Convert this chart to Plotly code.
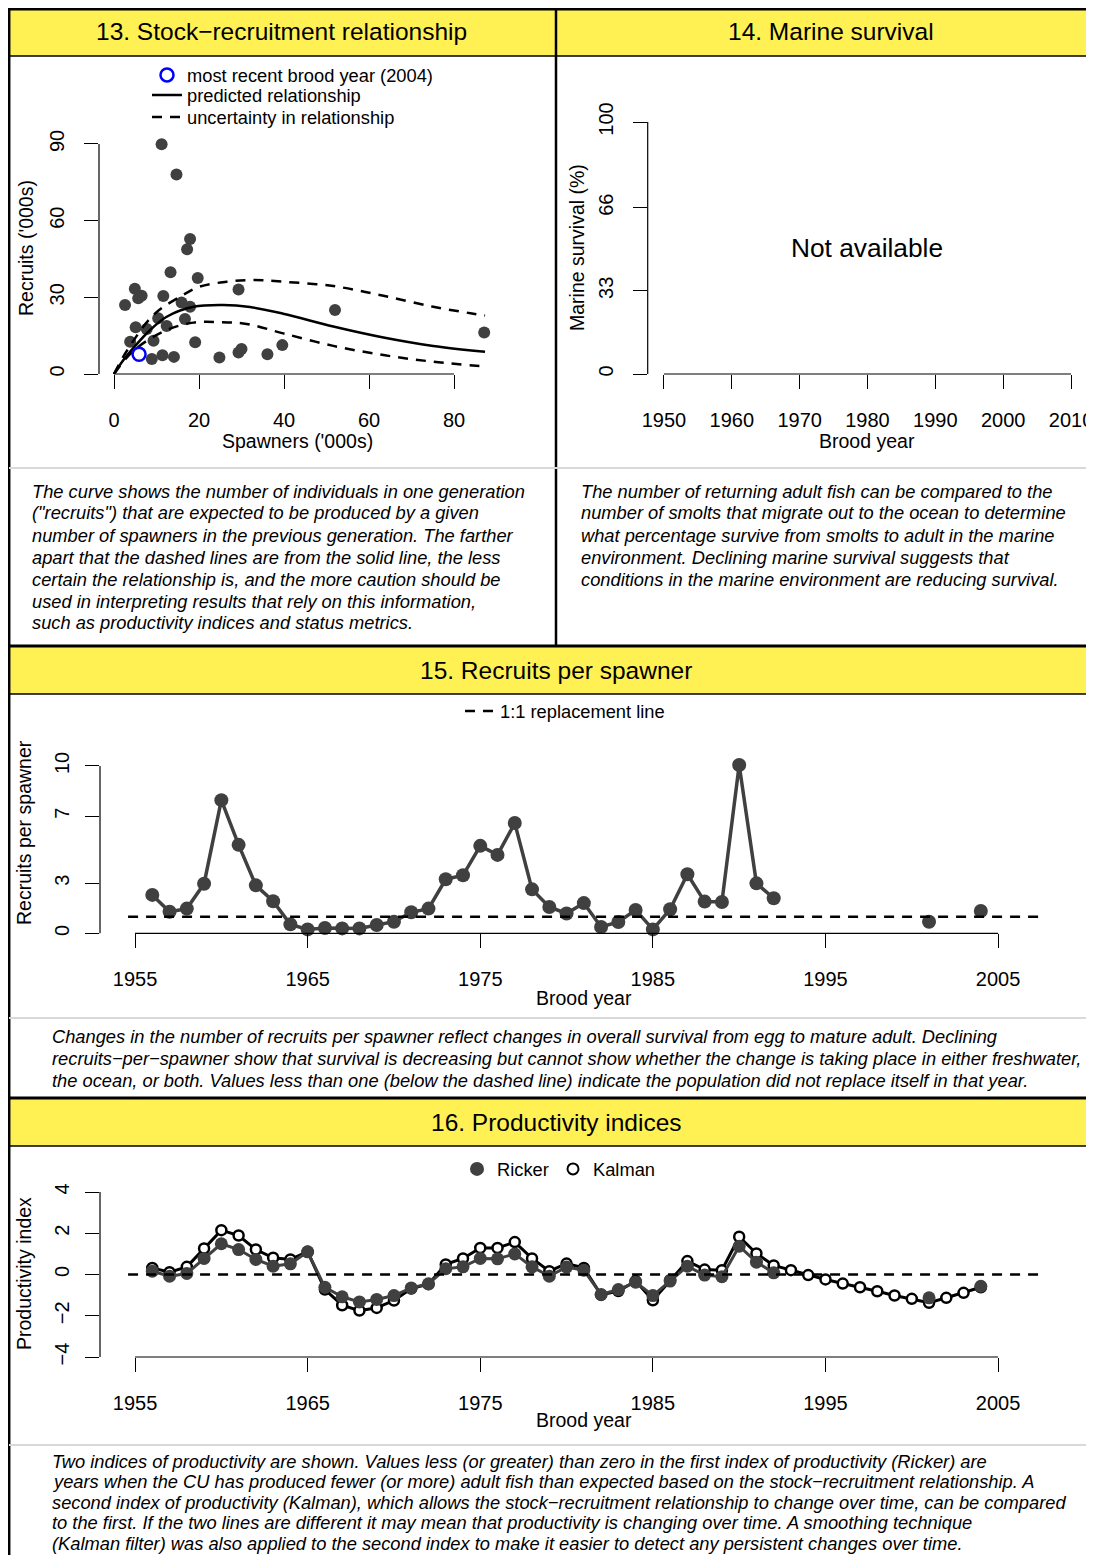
import plotly.graph_objects as go

# page offset: the figure sits 8px inside the page (body margin); keep page free of scrollbars
OX, OY = 8, 8
W, H = 1094 - OX, 1563 - 2 * OY
def X(px): return (px - OX) / W
def Y(py): return 1 - (py - OY) / H

FONT = "Liberation Sans, Arial, Helvetica, sans-serif"
DARK = "#404040"
YELLOW = "#FFF154"

# ---------------- data ----------------
# Panel 13: stock-recruitment
spawners = [11.2, 14.7, 17.9, 17.2, 13.3, 19.7, 29.3, 4.9, 6.5, 5.7, 2.6, 11.6, 15.9, 17.9,
            52.0, 10.4, 16.7, 5.1, 7.7, 12.4, 9.3, 3.8, 19.1, 39.6, 30.0, 29.3, 36.1, 24.8,
            14.1, 11.4, 8.9, 87.1]
recruits = [89.9, 78.1, 52.8, 48.8, 39.8, 37.6, 33.1, 33.4, 30.6, 29.6, 27.0, 30.5, 28.0, 26.3,
            25.0, 21.8, 21.5, 18.3, 17.6, 18.8, 13.0, 12.6, 12.4, 11.3, 9.8, 8.4, 7.7, 6.5,
            6.7, 7.3, 5.9, 16.2]
recent_spawners = [5.9]
recent_recruits = [7.7]

pred_S = [0, 2, 5, 8.5, 12.4, 18.7, 25.7, 32, 39.8, 51.6, 63.4, 75.1, 87.3]
pred_R = [0, 5.0, 11.0, 17.2, 22.4, 26.3, 27.0, 26.2, 23.6, 18.6, 14.3, 11.0, 8.7]
upper_S = [0, 3, 9.3, 15.9, 20.2, 26.5, 32.8, 39.8, 51.6, 63.4, 75.1, 84.2, 87.3]
upper_R = [0, 9.0, 23.1, 30.6, 34.2, 36.1, 36.8, 36.1, 34.4, 30.6, 26.3, 23.7, 22.9]
lower_S = [0, 3, 6, 12.4, 18.7, 24.9, 31.2, 39.8, 51.6, 63.4, 75.1, 87.3]
lower_R = [0, 6.4, 11.0, 17.2, 20.1, 20.3, 19.6, 15.9, 11.0, 7.4, 4.8, 2.9]

# Panels 15 & 16: brood years
years = list(range(1956, 2005))
rps = [2.30, 1.29, 1.48, 2.97, 7.96, 5.29, 2.87, 1.92, 0.54, 0.24, 0.32, 0.30, 0.30, 0.50,
       0.70, 1.26, 1.48, 3.23, 3.47, 5.23, 4.69, 6.59, 2.63, 1.58, 1.19, 1.81, 0.38, 0.68,
       1.40, 0.24, 1.44, 3.53, 1.90, 1.88, 10.06, 2.99, 2.10,
       None, None, None, None, None, None, None, None, 0.70, None, None, 1.34]
ricker = [0.16, -0.08, 0.05, 0.78, 1.49, 1.21, 0.73, 0.40, 0.52, 1.10, -0.62, -1.08, -1.33,
          -1.21, -1.02, -0.65, -0.45, 0.28, 0.37, 0.78, 0.76, 1.00, 0.37, -0.08, 0.36, 0.21,
          -0.97, -0.73, -0.37, -1.02, -0.32, 0.40, -0.03, -0.11, 1.37, 0.60, 0.08,
          None, None, None, None, None, None, None, None, -1.13, None, None, -0.57]
kalman = [0.32, 0.11, 0.37, 1.26, 2.15, 1.89, 1.21, 0.81, 0.73, 1.10, -0.73, -1.49, -1.75,
          -1.62, -1.26, -0.68, -0.47, 0.49, 0.78, 1.29, 1.29, 1.57, 0.78, 0.16, 0.53, 0.32,
          -0.99, -0.80, -0.32, -1.25, -0.28, 0.65, 0.24, 0.21, 1.83, 1.02, 0.44, 0.21, -0.03,
          -0.24, -0.44, -0.62, -0.81, -1.02, -1.18, -1.37, -1.13, -0.89, -0.62]

# ticks
sr_xticks = [0, 20, 40, 60, 80]
sr_yticks = [0, 30, 60, 90]
ms_xticks = [1950, 1960, 1970, 1980, 1990, 2000, 2010]
ms_yticks = [0, 33, 66, 100]
yr_xticks = [1955, 1965, 1975, 1985, 1995, 2005]
rps_yticks = [0, 3, 7, 10]
pi_yticks = [-4, -2, 0, 2, 4]

titles = ["13. Stock\u2212recruitment relationship", "14. Marine survival",
          "15. Recruits per spawner", "16. Productivity indices"]

cap13 = ["The curve shows the number of individuals in one generation",
         "(\"recruits\") that are expected to be produced by a given",
         "number of spawners in the previous generation. The farther",
         "apart that the dashed lines are from the solid line, the less",
         "certain the relationship is, and the more caution should be",
         "used in interpreting results that rely on this information,",
         "such as productivity indices and status metrics."]
cap14 = ["The number of returning adult fish can be compared to the",
         "number of smolts that migrate out to the ocean to determine",
         "what percentage survive from smolts to adult in the marine",
         "environment. Declining marine survival suggests that",
         "conditions in the marine environment are reducing survival."]
cap15 = ["Changes in the number of recruits per spawner reflect changes in overall survival from egg to mature adult. Declining",
         "recruits\u2212per\u2212spawner show that survival is decreasing but cannot show whether the change is taking place in either freshwater,",
         "the ocean, or both. Values less than one (below the dashed line) indicate the population did not replace itself in that year."]
cap16 = ["Two indices of productivity are shown. Values less (or greater) than zero in the first index of productivity (Ricker) are",
         "years when the CU has produced fewer (or more) adult fish than expected based on the stock\u2212recruitment relationship. A",
         "second index of productivity (Kalman), which allows the stock\u2212recruitment relationship to change over time, can be compared",
         "to the first. If the two lines are different it may mean that productivity is changing over time. A smoothing technique",
         "(Kalman filter) was also applied to the second index to make it easier to detect any persistent changes over time."]

# ---------------- figure ----------------
fig = go.Figure()

# Panel 13
fig.add_trace(go.Scatter(x=spawners, y=recruits, mode="markers", xaxis="x", yaxis="y",
                         marker=dict(size=12, color=DARK), showlegend=False, cliponaxis=False))
fig.add_trace(go.Scatter(x=upper_S, y=upper_R, mode="lines", xaxis="x", yaxis="y",
                         line=dict(color="black", width=2.5, dash="10px,8px", shape="spline"),
                         name="uncertainty in relationship", legend="legend3", legendgroup="unc",
                         showlegend=True, cliponaxis=False))
fig.add_trace(go.Scatter(x=lower_S, y=lower_R, mode="lines", xaxis="x", yaxis="y",
                         line=dict(color="black", width=2.5, dash="10px,8px", shape="spline"),
                         legendgroup="unc", showlegend=False, cliponaxis=False))
fig.add_trace(go.Scatter(x=pred_S, y=pred_R, mode="lines", xaxis="x", yaxis="y",
                         line=dict(color="black", width=2.5, shape="spline"),
                         name="predicted relationship", legend="legend2", showlegend=True,
                         cliponaxis=False))
fig.add_trace(go.Scatter(x=recent_spawners, y=recent_recruits, mode="markers", xaxis="x", yaxis="y",
                         marker=dict(size=13, symbol="circle-open", color="#0000FF",
                                     line=dict(width=2.5, color="#0000FF")),
                         name="most recent brood year (2004)", legend="legend", showlegend=True,
                         cliponaxis=False))

# Panel 14 (empty)
fig.add_trace(go.Scatter(x=[None], y=[None], xaxis="x2", yaxis="y2", showlegend=False))

# Panel 15
fig.add_trace(go.Scatter(x=years, y=rps, mode="lines+markers", xaxis="x3", yaxis="y3",
                         line=dict(color=DARK, width=3.5), marker=dict(size=14, color=DARK),
                         connectgaps=False, showlegend=False, cliponaxis=False))
fig.add_trace(go.Scatter(x=[None], y=[None], mode="lines", xaxis="x3", yaxis="y3",
                         line=dict(color="black", width=2.5, dash="10px,8px"),
                         name="1:1 replacement line", legend="legend4", showlegend=True))

# Panel 16
fig.add_trace(go.Scatter(x=years, y=kalman, mode="lines+markers", xaxis="x4", yaxis="y4",
                         line=dict(color="black", width=3),
                         marker=dict(size=10, color="white", line=dict(width=2.5, color="black")),
                         showlegend=False, cliponaxis=False))
fig.add_trace(go.Scatter(x=years, y=ricker, mode="lines+markers", xaxis="x4", yaxis="y4",
                         line=dict(color=DARK, width=3), marker=dict(size=13, color=DARK),
                         connectgaps=False, showlegend=False, cliponaxis=False))
fig.add_trace(go.Scatter(x=[None], y=[None], mode="markers", xaxis="x4", yaxis="y4",
                         marker=dict(size=14, color=DARK), name="Ricker",
                         legend="legend5", showlegend=True))
fig.add_trace(go.Scatter(x=[None], y=[None], mode="markers", xaxis="x4", yaxis="y4",
                         marker=dict(size=11, color="white", line=dict(width=2, color="black")),
                         name="Kalman", legend="legend6", showlegend=True))

# ---------------- axes ----------------
TICKSZ = 20
def xax(d0, d1, rng, tv, anchor):
    return dict(domain=[X(d0), X(d1)], range=rng, tickmode="array", tickvals=tv,
                ticks="outside", ticklen=14, tickwidth=1.2, tickcolor="black",
                showline=False, showgrid=False, zeroline=False, anchor=anchor,
                tickfont=dict(size=TICKSZ, color="black", family=FONT),
                ticklabelstandoff=14, automargin=False, fixedrange=True)

def yax(top, bottom, rng, tv, anchor, standoff=12):
    return dict(domain=[Y(bottom), Y(top)], range=rng, tickmode="array", tickvals=tv,
                ticks="outside", ticklen=14, tickwidth=1.2, tickcolor="black", tickangle=-90,
                showline=False, showgrid=False, zeroline=False, anchor=anchor,
                tickfont=dict(size=TICKSZ, color="black", family=FONT),
                ticklabelstandoff=standoff, automargin=False, fixedrange=True)

layout = dict(
    width=W, height=H, autosize=False,
    margin=dict(l=0, r=0, t=0, b=0, pad=0),
    paper_bgcolor="white", plot_bgcolor="white",
    font=dict(family=FONT, color="black"),
    showlegend=True,
    xaxis=xax(99, 500, [-3.53, 90.82], sr_xticks, "y"),
    yaxis=yax(122, 374, [0, 98.6], sr_yticks, "x"),
    xaxis2=xax(647.7, 1087.3, [1947.6, 2012.4], ms_xticks, "y2"),
    yaxis2=yax(122, 374, [0, 100], ms_yticks, "x2"),
    xaxis3=xax(100, 1068, [1952.97, 2009.05], yr_xticks, "y3"),
    yaxis3=yax(732.5, 933.4, [0, 12], rps_yticks, "x3", standoff=8),
    xaxis4=xax(100, 1068, [1952.97, 2009.05], yr_xticks, "y4"),
    yaxis4=yax(1192, 1357, [-4, 4], pi_yticks, "x4", standoff=8),
)

def leg(text_left, cy, orient="v"):
    return dict(x=X(text_left - 40), y=Y(cy), xanchor="left", yanchor="middle",
                bgcolor="rgba(0,0,0,0)", borderwidth=0, orientation=orient,
                font=dict(size=18.3, color="black", family=FONT),
                itemclick=False, itemdoubleclick=False)

layout["legend"] = leg(187, 75)
layout["legend2"] = leg(187, 95)
layout["legend3"] = leg(187, 117)
layout["legend4"] = leg(500, 711)
layout["legend5"] = leg(497, 1169)
layout["legend6"] = leg(593, 1169)

fig.update_layout(**layout)

# ---------------- shapes: frames ----------------
shapes = []
def pline(x0, y0, x1, y1, color="black", width=2):
    shapes.append(dict(type="line", xref="paper", yref="paper", x0=X(x0), y0=Y(y0),
                       x1=X(x1), y1=Y(y1), line=dict(color=color, width=width), layer="above"))
def prect(x0, y0, x1, y1, color):
    shapes.append(dict(type="rect", xref="paper", yref="paper", x0=X(x0), y0=Y(y0),
                       x1=X(x1), y1=Y(y1), fillcolor=color, line=dict(width=0), layer="below"))

for top, bot, tw in [(9.2, 56, 2.5), (646, 694, 3), (1098, 1146, 3)]:
    prect(9, top, 1100, bot, YELLOW)
    pline(9, top, 1100, top, width=tw)
    pline(9, bot, 1100, bot, width=1.5)
pline(9.2, 8, 9.2, 1580, width=2.5)
pline(556, 8, 556, 646, width=2.5)
for gy in [468, 1018, 1445]:
    pline(9, gy, 1100, gy, color="#D9D9D9", width=2)

# axis lines (R style: from first to last tick)
def axlines(xa, ya, xt, yt):
    shapes.append(dict(type="line", xref=xa, yref=ya + " domain", x0=xt[0], x1=xt[-1], y0=0, y1=0,
                       line=dict(color="black", width=1.2)))
    shapes.append(dict(type="line", xref=xa + " domain", yref=ya, x0=0, x1=0, y0=yt[0], y1=yt[-1],
                       line=dict(color="black", width=1.2)))
axlines("x", "y", sr_xticks, sr_yticks)
axlines("x2", "y2", ms_xticks, ms_yticks)
axlines("x3", "y3", yr_xticks, rps_yticks)
axlines("x4", "y4", yr_xticks, pi_yticks)

# reference dashed lines (1:1 replacement, zero productivity)
for xa, ya, val in [("x3", "y3", 1), ("x4", "y4", 0)]:
    shapes.append(dict(type="line", xref=xa + " domain", yref=ya,
                       x0=0.029, x1=0.976, y0=val, y1=val,
                       line=dict(color="black", width=2.5, dash="10px,8px")))

fig.update_layout(shapes=shapes)

# ---------------- annotations ----------------
ann = []
def text(px, py, s, size=18.3, xanchor="center", italic=False, angle=0):
    ann.append(dict(x=X(px), y=Y(py), xref="paper", yref="paper", text=s, showarrow=False,
                    xanchor=xanchor, yanchor="middle", textangle=angle,
                    font=dict(size=size, color="black", family=FONT,
                              style="italic" if italic else "normal")))

text(281, 32, titles[0], 24.5)
text(831, 32, titles[1], 24.5)
text(556, 670, titles[2], 24.5)
text(556, 1122, titles[3], 24.5)

# axis titles
text(297, 441, "Spawners ('000s)", 19.5)
text(26, 248, "Recruits ('000s)", 19.5, angle=-90)
text(867, 441, "Brood year", 19.5)
text(577, 248, "Marine survival (%)", 19.5, angle=-90)
text(584, 998, "Brood year", 19.5)
text(24, 833, "Recruits per spawner", 19.5, angle=-90)
text(584, 1420, "Brood year", 19.5)
text(24, 1274, "Productivity index", 19.5, angle=-90)

text(867, 248, "Not available", 26.3)

CAP = 18.3
for i, s in enumerate(cap13):
    text(30, 491 + 22 * i, s, CAP, "left", True)
for i, s in enumerate(cap14):
    text(579, 491 + 22 * i, s, CAP, "left", True)
for i, s in enumerate(cap15):
    text(50, 1036 + 22 * i, s, CAP, "left", True)
for i, s in enumerate(cap16):
    text(50, 1461 + 20.5 * i, s, CAP, "left", True)

fig.update_layout(annotations=ann)

fig.write_html("out.html")
